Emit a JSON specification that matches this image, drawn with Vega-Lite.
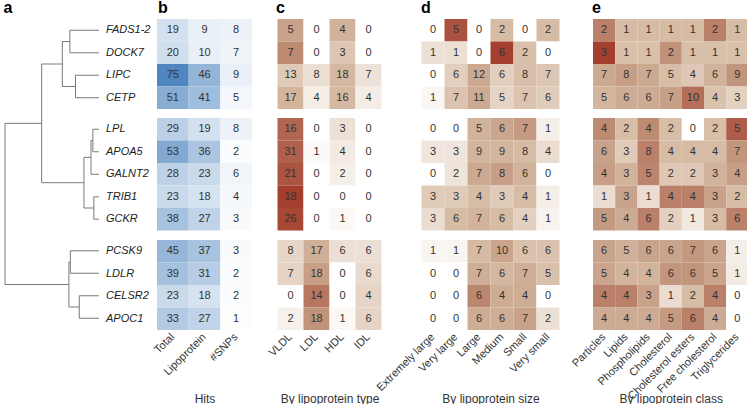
{
  "$schema": "https://vega.github.io/schema/vega-lite/v6.json",
  "background": "white",
  "padding": {"left": 3, "top": 0, "right": 0, "bottom": 0},
  "bounds": "flush",
  "columns": 5,
  "spacing": {"row": 9, "column": 11},
  "resolve": {"scale": {"color": "independent", "x": "independent", "y": "independent"}},
  "config": {
    "font": "Liberation Sans",
    "view": {"stroke": null},
    "title": {"fontSize": 16, "fontWeight": "bold", "anchor": "start", "color": "#000", "offset": 3, "font": "Liberation Sans"},
    "axis": {"domain": false, "ticks": false, "grid": false},
    "axisX": {"labelAngle": -45, "labelAlign": "right", "labelBaseline": "middle", "labelPadding": 5, "labelFontSize": 11, "labelColor": "#333", "labelOverlap": false, "titleY": 68, "titleBaseline": "middle", "titleFontSize": 12, "titleFontWeight": "normal", "titleColor": "#333"},
    "text": {"fontSize": 11, "color": "#333"},
    "range": {"ramp": ["#ffffff", "#4a80b8"]}
  },
  "datasets": {
    "tree": [
      {"h1": 0.31, "h2": 0.31, "p1": 0.5, "p2": 1.5},
      {"h1": 0.25, "h2": 0.25, "p1": 2.5, "p2": 3.5},
      {"h1": 0.39, "h2": 0.39, "p1": 1.0, "p2": 3.0},
      {"h1": 0.065, "h2": 0.065, "p1": 4.9, "p2": 5.9},
      {"h1": 0.085, "h2": 0.085, "p1": 5.4, "p2": 6.9},
      {"h1": 0.055, "h2": 0.055, "p1": 7.9, "p2": 8.9},
      {"h1": 0.16, "h2": 0.16, "p1": 6.15, "p2": 8.4},
      {"h1": 0.61, "h2": 0.61, "p1": 2.0, "p2": 7.275},
      {"h1": 0.305, "h2": 0.305, "p1": 10.3, "p2": 11.3},
      {"h1": 0.21, "h2": 0.21, "p1": 12.3, "p2": 13.3},
      {"h1": 0.32, "h2": 0.32, "p1": 10.8, "p2": 12.8},
      {"h1": 1.0, "h2": 1.0, "p1": 4.6375, "p2": 11.8},
      {"h1": 0, "h2": 0.31, "p1": 0.5, "p2": 0.5},
      {"h1": 0, "h2": 0.31, "p1": 1.5, "p2": 1.5},
      {"h1": 0, "h2": 0.25, "p1": 2.5, "p2": 2.5},
      {"h1": 0, "h2": 0.25, "p1": 3.5, "p2": 3.5},
      {"h1": 0.31, "h2": 0.39, "p1": 1.0, "p2": 1.0},
      {"h1": 0.25, "h2": 0.39, "p1": 3.0, "p2": 3.0},
      {"h1": 0, "h2": 0.065, "p1": 4.9, "p2": 4.9},
      {"h1": 0, "h2": 0.065, "p1": 5.9, "p2": 5.9},
      {"h1": 0.065, "h2": 0.085, "p1": 5.4, "p2": 5.4},
      {"h1": 0, "h2": 0.085, "p1": 6.9, "p2": 6.9},
      {"h1": 0, "h2": 0.055, "p1": 7.9, "p2": 7.9},
      {"h1": 0, "h2": 0.055, "p1": 8.9, "p2": 8.9},
      {"h1": 0.085, "h2": 0.16, "p1": 6.15, "p2": 6.15},
      {"h1": 0.055, "h2": 0.16, "p1": 8.4, "p2": 8.4},
      {"h1": 0.39, "h2": 0.61, "p1": 2.0, "p2": 2.0},
      {"h1": 0.16, "h2": 0.61, "p1": 7.275, "p2": 7.275},
      {"h1": 0, "h2": 0.305, "p1": 10.3, "p2": 10.3},
      {"h1": 0, "h2": 0.305, "p1": 11.3, "p2": 11.3},
      {"h1": 0, "h2": 0.21, "p1": 12.3, "p2": 12.3},
      {"h1": 0, "h2": 0.21, "p1": 13.3, "p2": 13.3},
      {"h1": 0.305, "h2": 0.32, "p1": 10.8, "p2": 10.8},
      {"h1": 0.21, "h2": 0.32, "p1": 12.8, "p2": 12.8},
      {"h1": 0.61, "h2": 1.0, "p1": 4.6375, "p2": 4.6375},
      {"h1": 0.32, "h2": 1.0, "p1": 11.8, "p2": 11.8}
    ],
    "leaves": [
      {"gene": "FADS1-2", "cluster": 1, "pos": 0.5}, {"gene": "DOCK7", "cluster": 1, "pos": 1.5}, {"gene": "LIPC", "cluster": 1, "pos": 2.5}, {"gene": "CETP", "cluster": 1, "pos": 3.5},
      {"gene": "LPL", "cluster": 2, "pos": 4.9}, {"gene": "APOA5", "cluster": 2, "pos": 5.9}, {"gene": "GALNT2", "cluster": 2, "pos": 6.9}, {"gene": "TRIB1", "cluster": 2, "pos": 7.9}, {"gene": "GCKR", "cluster": 2, "pos": 8.9},
      {"gene": "PCSK9", "cluster": 3, "pos": 10.3}, {"gene": "LDLR", "cluster": 3, "pos": 11.3}, {"gene": "CELSR2", "cluster": 3, "pos": 12.3}, {"gene": "APOC1", "cluster": 3, "pos": 13.3}
    ],
    "hits": [
      {"gene": "FADS1-2", "cluster": 1, "col": "Total", "n": 19}, {"gene": "FADS1-2", "cluster": 1, "col": "Lipoprotein", "n": 9}, {"gene": "FADS1-2", "cluster": 1, "col": "#SNPs", "n": 8},
      {"gene": "DOCK7", "cluster": 1, "col": "Total", "n": 20}, {"gene": "DOCK7", "cluster": 1, "col": "Lipoprotein", "n": 10}, {"gene": "DOCK7", "cluster": 1, "col": "#SNPs", "n": 7},
      {"gene": "LIPC", "cluster": 1, "col": "Total", "n": 75}, {"gene": "LIPC", "cluster": 1, "col": "Lipoprotein", "n": 46}, {"gene": "LIPC", "cluster": 1, "col": "#SNPs", "n": 9},
      {"gene": "CETP", "cluster": 1, "col": "Total", "n": 51}, {"gene": "CETP", "cluster": 1, "col": "Lipoprotein", "n": 41}, {"gene": "CETP", "cluster": 1, "col": "#SNPs", "n": 5},
      {"gene": "LPL", "cluster": 2, "col": "Total", "n": 29}, {"gene": "LPL", "cluster": 2, "col": "Lipoprotein", "n": 19}, {"gene": "LPL", "cluster": 2, "col": "#SNPs", "n": 8},
      {"gene": "APOA5", "cluster": 2, "col": "Total", "n": 53}, {"gene": "APOA5", "cluster": 2, "col": "Lipoprotein", "n": 36}, {"gene": "APOA5", "cluster": 2, "col": "#SNPs", "n": 2},
      {"gene": "GALNT2", "cluster": 2, "col": "Total", "n": 28}, {"gene": "GALNT2", "cluster": 2, "col": "Lipoprotein", "n": 23}, {"gene": "GALNT2", "cluster": 2, "col": "#SNPs", "n": 6},
      {"gene": "TRIB1", "cluster": 2, "col": "Total", "n": 23}, {"gene": "TRIB1", "cluster": 2, "col": "Lipoprotein", "n": 18}, {"gene": "TRIB1", "cluster": 2, "col": "#SNPs", "n": 4},
      {"gene": "GCKR", "cluster": 2, "col": "Total", "n": 38}, {"gene": "GCKR", "cluster": 2, "col": "Lipoprotein", "n": 27}, {"gene": "GCKR", "cluster": 2, "col": "#SNPs", "n": 3},
      {"gene": "PCSK9", "cluster": 3, "col": "Total", "n": 45}, {"gene": "PCSK9", "cluster": 3, "col": "Lipoprotein", "n": 37}, {"gene": "PCSK9", "cluster": 3, "col": "#SNPs", "n": 3},
      {"gene": "LDLR", "cluster": 3, "col": "Total", "n": 39}, {"gene": "LDLR", "cluster": 3, "col": "Lipoprotein", "n": 31}, {"gene": "LDLR", "cluster": 3, "col": "#SNPs", "n": 2},
      {"gene": "CELSR2", "cluster": 3, "col": "Total", "n": 23}, {"gene": "CELSR2", "cluster": 3, "col": "Lipoprotein", "n": 18}, {"gene": "CELSR2", "cluster": 3, "col": "#SNPs", "n": 2},
      {"gene": "APOC1", "cluster": 3, "col": "Total", "n": 33}, {"gene": "APOC1", "cluster": 3, "col": "Lipoprotein", "n": 27}, {"gene": "APOC1", "cluster": 3, "col": "#SNPs", "n": 1}
    ],
    "type": [
      {"gene": "FADS1-2", "cluster": 1, "col": "VLDL", "n": 5}, {"gene": "FADS1-2", "cluster": 1, "col": "LDL", "n": 0}, {"gene": "FADS1-2", "cluster": 1, "col": "HDL", "n": 4}, {"gene": "FADS1-2", "cluster": 1, "col": "IDL", "n": 0},
      {"gene": "DOCK7", "cluster": 1, "col": "VLDL", "n": 7}, {"gene": "DOCK7", "cluster": 1, "col": "LDL", "n": 0}, {"gene": "DOCK7", "cluster": 1, "col": "HDL", "n": 3}, {"gene": "DOCK7", "cluster": 1, "col": "IDL", "n": 0},
      {"gene": "LIPC", "cluster": 1, "col": "VLDL", "n": 13}, {"gene": "LIPC", "cluster": 1, "col": "LDL", "n": 8}, {"gene": "LIPC", "cluster": 1, "col": "HDL", "n": 18}, {"gene": "LIPC", "cluster": 1, "col": "IDL", "n": 7},
      {"gene": "CETP", "cluster": 1, "col": "VLDL", "n": 17}, {"gene": "CETP", "cluster": 1, "col": "LDL", "n": 4}, {"gene": "CETP", "cluster": 1, "col": "HDL", "n": 16}, {"gene": "CETP", "cluster": 1, "col": "IDL", "n": 4},
      {"gene": "LPL", "cluster": 2, "col": "VLDL", "n": 16}, {"gene": "LPL", "cluster": 2, "col": "LDL", "n": 0}, {"gene": "LPL", "cluster": 2, "col": "HDL", "n": 3}, {"gene": "LPL", "cluster": 2, "col": "IDL", "n": 0},
      {"gene": "APOA5", "cluster": 2, "col": "VLDL", "n": 31}, {"gene": "APOA5", "cluster": 2, "col": "LDL", "n": 1}, {"gene": "APOA5", "cluster": 2, "col": "HDL", "n": 4}, {"gene": "APOA5", "cluster": 2, "col": "IDL", "n": 0},
      {"gene": "GALNT2", "cluster": 2, "col": "VLDL", "n": 21}, {"gene": "GALNT2", "cluster": 2, "col": "LDL", "n": 0}, {"gene": "GALNT2", "cluster": 2, "col": "HDL", "n": 2}, {"gene": "GALNT2", "cluster": 2, "col": "IDL", "n": 0},
      {"gene": "TRIB1", "cluster": 2, "col": "VLDL", "n": 18}, {"gene": "TRIB1", "cluster": 2, "col": "LDL", "n": 0}, {"gene": "TRIB1", "cluster": 2, "col": "HDL", "n": 0}, {"gene": "TRIB1", "cluster": 2, "col": "IDL", "n": 0},
      {"gene": "GCKR", "cluster": 2, "col": "VLDL", "n": 26}, {"gene": "GCKR", "cluster": 2, "col": "LDL", "n": 0}, {"gene": "GCKR", "cluster": 2, "col": "HDL", "n": 1}, {"gene": "GCKR", "cluster": 2, "col": "IDL", "n": 0},
      {"gene": "PCSK9", "cluster": 3, "col": "VLDL", "n": 8}, {"gene": "PCSK9", "cluster": 3, "col": "LDL", "n": 17}, {"gene": "PCSK9", "cluster": 3, "col": "HDL", "n": 6}, {"gene": "PCSK9", "cluster": 3, "col": "IDL", "n": 6},
      {"gene": "LDLR", "cluster": 3, "col": "VLDL", "n": 7}, {"gene": "LDLR", "cluster": 3, "col": "LDL", "n": 18}, {"gene": "LDLR", "cluster": 3, "col": "HDL", "n": 0}, {"gene": "LDLR", "cluster": 3, "col": "IDL", "n": 6},
      {"gene": "CELSR2", "cluster": 3, "col": "VLDL", "n": 0}, {"gene": "CELSR2", "cluster": 3, "col": "LDL", "n": 14}, {"gene": "CELSR2", "cluster": 3, "col": "HDL", "n": 0}, {"gene": "CELSR2", "cluster": 3, "col": "IDL", "n": 4},
      {"gene": "APOC1", "cluster": 3, "col": "VLDL", "n": 2}, {"gene": "APOC1", "cluster": 3, "col": "LDL", "n": 18}, {"gene": "APOC1", "cluster": 3, "col": "HDL", "n": 1}, {"gene": "APOC1", "cluster": 3, "col": "IDL", "n": 6}
    ],
    "size": [
      {"gene": "FADS1-2", "cluster": 1, "col": "Extremely large", "n": 0}, {"gene": "FADS1-2", "cluster": 1, "col": "Very large", "n": 5}, {"gene": "FADS1-2", "cluster": 1, "col": "Large", "n": 0}, {"gene": "FADS1-2", "cluster": 1, "col": "Medium", "n": 2}, {"gene": "FADS1-2", "cluster": 1, "col": "Small", "n": 0}, {"gene": "FADS1-2", "cluster": 1, "col": "Very small", "n": 2},
      {"gene": "DOCK7", "cluster": 1, "col": "Extremely large", "n": 1}, {"gene": "DOCK7", "cluster": 1, "col": "Very large", "n": 1}, {"gene": "DOCK7", "cluster": 1, "col": "Large", "n": 0}, {"gene": "DOCK7", "cluster": 1, "col": "Medium", "n": 6}, {"gene": "DOCK7", "cluster": 1, "col": "Small", "n": 2}, {"gene": "DOCK7", "cluster": 1, "col": "Very small", "n": 0},
      {"gene": "LIPC", "cluster": 1, "col": "Extremely large", "n": 0}, {"gene": "LIPC", "cluster": 1, "col": "Very large", "n": 6}, {"gene": "LIPC", "cluster": 1, "col": "Large", "n": 12}, {"gene": "LIPC", "cluster": 1, "col": "Medium", "n": 6}, {"gene": "LIPC", "cluster": 1, "col": "Small", "n": 8}, {"gene": "LIPC", "cluster": 1, "col": "Very small", "n": 7},
      {"gene": "CETP", "cluster": 1, "col": "Extremely large", "n": 1}, {"gene": "CETP", "cluster": 1, "col": "Very large", "n": 7}, {"gene": "CETP", "cluster": 1, "col": "Large", "n": 11}, {"gene": "CETP", "cluster": 1, "col": "Medium", "n": 5}, {"gene": "CETP", "cluster": 1, "col": "Small", "n": 7}, {"gene": "CETP", "cluster": 1, "col": "Very small", "n": 6},
      {"gene": "LPL", "cluster": 2, "col": "Extremely large", "n": 0}, {"gene": "LPL", "cluster": 2, "col": "Very large", "n": 0}, {"gene": "LPL", "cluster": 2, "col": "Large", "n": 5}, {"gene": "LPL", "cluster": 2, "col": "Medium", "n": 6}, {"gene": "LPL", "cluster": 2, "col": "Small", "n": 7}, {"gene": "LPL", "cluster": 2, "col": "Very small", "n": 1},
      {"gene": "APOA5", "cluster": 2, "col": "Extremely large", "n": 3}, {"gene": "APOA5", "cluster": 2, "col": "Very large", "n": 3}, {"gene": "APOA5", "cluster": 2, "col": "Large", "n": 9}, {"gene": "APOA5", "cluster": 2, "col": "Medium", "n": 9}, {"gene": "APOA5", "cluster": 2, "col": "Small", "n": 8}, {"gene": "APOA5", "cluster": 2, "col": "Very small", "n": 4},
      {"gene": "GALNT2", "cluster": 2, "col": "Extremely large", "n": 0}, {"gene": "GALNT2", "cluster": 2, "col": "Very large", "n": 2}, {"gene": "GALNT2", "cluster": 2, "col": "Large", "n": 7}, {"gene": "GALNT2", "cluster": 2, "col": "Medium", "n": 8}, {"gene": "GALNT2", "cluster": 2, "col": "Small", "n": 6}, {"gene": "GALNT2", "cluster": 2, "col": "Very small", "n": 0},
      {"gene": "TRIB1", "cluster": 2, "col": "Extremely large", "n": 3}, {"gene": "TRIB1", "cluster": 2, "col": "Very large", "n": 3}, {"gene": "TRIB1", "cluster": 2, "col": "Large", "n": 4}, {"gene": "TRIB1", "cluster": 2, "col": "Medium", "n": 3}, {"gene": "TRIB1", "cluster": 2, "col": "Small", "n": 4}, {"gene": "TRIB1", "cluster": 2, "col": "Very small", "n": 1},
      {"gene": "GCKR", "cluster": 2, "col": "Extremely large", "n": 3}, {"gene": "GCKR", "cluster": 2, "col": "Very large", "n": 6}, {"gene": "GCKR", "cluster": 2, "col": "Large", "n": 7}, {"gene": "GCKR", "cluster": 2, "col": "Medium", "n": 6}, {"gene": "GCKR", "cluster": 2, "col": "Small", "n": 4}, {"gene": "GCKR", "cluster": 2, "col": "Very small", "n": 1},
      {"gene": "PCSK9", "cluster": 3, "col": "Extremely large", "n": 1}, {"gene": "PCSK9", "cluster": 3, "col": "Very large", "n": 1}, {"gene": "PCSK9", "cluster": 3, "col": "Large", "n": 7}, {"gene": "PCSK9", "cluster": 3, "col": "Medium", "n": 10}, {"gene": "PCSK9", "cluster": 3, "col": "Small", "n": 6}, {"gene": "PCSK9", "cluster": 3, "col": "Very small", "n": 6},
      {"gene": "LDLR", "cluster": 3, "col": "Extremely large", "n": 0}, {"gene": "LDLR", "cluster": 3, "col": "Very large", "n": 0}, {"gene": "LDLR", "cluster": 3, "col": "Large", "n": 7}, {"gene": "LDLR", "cluster": 3, "col": "Medium", "n": 6}, {"gene": "LDLR", "cluster": 3, "col": "Small", "n": 7}, {"gene": "LDLR", "cluster": 3, "col": "Very small", "n": 5},
      {"gene": "CELSR2", "cluster": 3, "col": "Extremely large", "n": 0}, {"gene": "CELSR2", "cluster": 3, "col": "Very large", "n": 0}, {"gene": "CELSR2", "cluster": 3, "col": "Large", "n": 6}, {"gene": "CELSR2", "cluster": 3, "col": "Medium", "n": 4}, {"gene": "CELSR2", "cluster": 3, "col": "Small", "n": 4}, {"gene": "CELSR2", "cluster": 3, "col": "Very small", "n": 0},
      {"gene": "APOC1", "cluster": 3, "col": "Extremely large", "n": 0}, {"gene": "APOC1", "cluster": 3, "col": "Very large", "n": 0}, {"gene": "APOC1", "cluster": 3, "col": "Large", "n": 6}, {"gene": "APOC1", "cluster": 3, "col": "Medium", "n": 6}, {"gene": "APOC1", "cluster": 3, "col": "Small", "n": 7}, {"gene": "APOC1", "cluster": 3, "col": "Very small", "n": 2}
    ],
    "klass": [
      {"gene": "FADS1-2", "cluster": 1, "col": "Particles", "n": 2}, {"gene": "FADS1-2", "cluster": 1, "col": "Lipids", "n": 1}, {"gene": "FADS1-2", "cluster": 1, "col": "Phospholipids", "n": 1}, {"gene": "FADS1-2", "cluster": 1, "col": "Cholesterol", "n": 1}, {"gene": "FADS1-2", "cluster": 1, "col": "Cholesterol esters", "n": 1}, {"gene": "FADS1-2", "cluster": 1, "col": "Free cholesterol", "n": 2}, {"gene": "FADS1-2", "cluster": 1, "col": "Triglycerides", "n": 1},
      {"gene": "DOCK7", "cluster": 1, "col": "Particles", "n": 3}, {"gene": "DOCK7", "cluster": 1, "col": "Lipids", "n": 1}, {"gene": "DOCK7", "cluster": 1, "col": "Phospholipids", "n": 1}, {"gene": "DOCK7", "cluster": 1, "col": "Cholesterol", "n": 2}, {"gene": "DOCK7", "cluster": 1, "col": "Cholesterol esters", "n": 1}, {"gene": "DOCK7", "cluster": 1, "col": "Free cholesterol", "n": 1}, {"gene": "DOCK7", "cluster": 1, "col": "Triglycerides", "n": 1},
      {"gene": "LIPC", "cluster": 1, "col": "Particles", "n": 7}, {"gene": "LIPC", "cluster": 1, "col": "Lipids", "n": 8}, {"gene": "LIPC", "cluster": 1, "col": "Phospholipids", "n": 7}, {"gene": "LIPC", "cluster": 1, "col": "Cholesterol", "n": 5}, {"gene": "LIPC", "cluster": 1, "col": "Cholesterol esters", "n": 4}, {"gene": "LIPC", "cluster": 1, "col": "Free cholesterol", "n": 6}, {"gene": "LIPC", "cluster": 1, "col": "Triglycerides", "n": 9},
      {"gene": "CETP", "cluster": 1, "col": "Particles", "n": 5}, {"gene": "CETP", "cluster": 1, "col": "Lipids", "n": 6}, {"gene": "CETP", "cluster": 1, "col": "Phospholipids", "n": 6}, {"gene": "CETP", "cluster": 1, "col": "Cholesterol", "n": 7}, {"gene": "CETP", "cluster": 1, "col": "Cholesterol esters", "n": 10}, {"gene": "CETP", "cluster": 1, "col": "Free cholesterol", "n": 4}, {"gene": "CETP", "cluster": 1, "col": "Triglycerides", "n": 3},
      {"gene": "LPL", "cluster": 2, "col": "Particles", "n": 4}, {"gene": "LPL", "cluster": 2, "col": "Lipids", "n": 2}, {"gene": "LPL", "cluster": 2, "col": "Phospholipids", "n": 4}, {"gene": "LPL", "cluster": 2, "col": "Cholesterol", "n": 2}, {"gene": "LPL", "cluster": 2, "col": "Cholesterol esters", "n": 0}, {"gene": "LPL", "cluster": 2, "col": "Free cholesterol", "n": 2}, {"gene": "LPL", "cluster": 2, "col": "Triglycerides", "n": 5},
      {"gene": "APOA5", "cluster": 2, "col": "Particles", "n": 6}, {"gene": "APOA5", "cluster": 2, "col": "Lipids", "n": 3}, {"gene": "APOA5", "cluster": 2, "col": "Phospholipids", "n": 8}, {"gene": "APOA5", "cluster": 2, "col": "Cholesterol", "n": 4}, {"gene": "APOA5", "cluster": 2, "col": "Cholesterol esters", "n": 4}, {"gene": "APOA5", "cluster": 2, "col": "Free cholesterol", "n": 4}, {"gene": "APOA5", "cluster": 2, "col": "Triglycerides", "n": 7},
      {"gene": "GALNT2", "cluster": 2, "col": "Particles", "n": 4}, {"gene": "GALNT2", "cluster": 2, "col": "Lipids", "n": 3}, {"gene": "GALNT2", "cluster": 2, "col": "Phospholipids", "n": 5}, {"gene": "GALNT2", "cluster": 2, "col": "Cholesterol", "n": 2}, {"gene": "GALNT2", "cluster": 2, "col": "Cholesterol esters", "n": 2}, {"gene": "GALNT2", "cluster": 2, "col": "Free cholesterol", "n": 3}, {"gene": "GALNT2", "cluster": 2, "col": "Triglycerides", "n": 4},
      {"gene": "TRIB1", "cluster": 2, "col": "Particles", "n": 1}, {"gene": "TRIB1", "cluster": 2, "col": "Lipids", "n": 3}, {"gene": "TRIB1", "cluster": 2, "col": "Phospholipids", "n": 1}, {"gene": "TRIB1", "cluster": 2, "col": "Cholesterol", "n": 4}, {"gene": "TRIB1", "cluster": 2, "col": "Cholesterol esters", "n": 4}, {"gene": "TRIB1", "cluster": 2, "col": "Free cholesterol", "n": 3}, {"gene": "TRIB1", "cluster": 2, "col": "Triglycerides", "n": 2},
      {"gene": "GCKR", "cluster": 2, "col": "Particles", "n": 5}, {"gene": "GCKR", "cluster": 2, "col": "Lipids", "n": 4}, {"gene": "GCKR", "cluster": 2, "col": "Phospholipids", "n": 6}, {"gene": "GCKR", "cluster": 2, "col": "Cholesterol", "n": 2}, {"gene": "GCKR", "cluster": 2, "col": "Cholesterol esters", "n": 1}, {"gene": "GCKR", "cluster": 2, "col": "Free cholesterol", "n": 3}, {"gene": "GCKR", "cluster": 2, "col": "Triglycerides", "n": 6},
      {"gene": "PCSK9", "cluster": 3, "col": "Particles", "n": 6}, {"gene": "PCSK9", "cluster": 3, "col": "Lipids", "n": 5}, {"gene": "PCSK9", "cluster": 3, "col": "Phospholipids", "n": 6}, {"gene": "PCSK9", "cluster": 3, "col": "Cholesterol", "n": 6}, {"gene": "PCSK9", "cluster": 3, "col": "Cholesterol esters", "n": 7}, {"gene": "PCSK9", "cluster": 3, "col": "Free cholesterol", "n": 6}, {"gene": "PCSK9", "cluster": 3, "col": "Triglycerides", "n": 1},
      {"gene": "LDLR", "cluster": 3, "col": "Particles", "n": 5}, {"gene": "LDLR", "cluster": 3, "col": "Lipids", "n": 4}, {"gene": "LDLR", "cluster": 3, "col": "Phospholipids", "n": 4}, {"gene": "LDLR", "cluster": 3, "col": "Cholesterol", "n": 6}, {"gene": "LDLR", "cluster": 3, "col": "Cholesterol esters", "n": 6}, {"gene": "LDLR", "cluster": 3, "col": "Free cholesterol", "n": 5}, {"gene": "LDLR", "cluster": 3, "col": "Triglycerides", "n": 1},
      {"gene": "CELSR2", "cluster": 3, "col": "Particles", "n": 4}, {"gene": "CELSR2", "cluster": 3, "col": "Lipids", "n": 4}, {"gene": "CELSR2", "cluster": 3, "col": "Phospholipids", "n": 3}, {"gene": "CELSR2", "cluster": 3, "col": "Cholesterol", "n": 1}, {"gene": "CELSR2", "cluster": 3, "col": "Cholesterol esters", "n": 2}, {"gene": "CELSR2", "cluster": 3, "col": "Free cholesterol", "n": 4}, {"gene": "CELSR2", "cluster": 3, "col": "Triglycerides", "n": 0},
      {"gene": "APOC1", "cluster": 3, "col": "Particles", "n": 4}, {"gene": "APOC1", "cluster": 3, "col": "Lipids", "n": 4}, {"gene": "APOC1", "cluster": 3, "col": "Phospholipids", "n": 4}, {"gene": "APOC1", "cluster": 3, "col": "Cholesterol", "n": 5}, {"gene": "APOC1", "cluster": 3, "col": "Cholesterol esters", "n": 6}, {"gene": "APOC1", "cluster": 3, "col": "Free cholesterol", "n": 4}, {"gene": "APOC1", "cluster": 3, "col": "Triglycerides", "n": 0}
    ]
  },
  "concat": [
    {
      "width": 141, "height": 90,
      "title": {"text": "a", "dx": -1},
      "layer": [
        {
          "data": {"name": "tree"},
          "mark": {"type": "rule", "color": "#7a7a7a", "strokeWidth": 1},
          "encoding": {
            "x": {"field": "h1", "type": "quantitative", "scale": {"domain": [-0.5, 1], "reverse": true, "nice": false, "zero": false}, "axis": null},
            "x2": {"field": "h2"},
            "y": {"field": "p1", "type": "quantitative", "scale": {"domain": [0, 4], "reverse": true, "nice": false, "zero": false}, "axis": null},
            "y2": {"field": "p2"}
          }
        },
        {
          "data": {"name": "leaves"},
          "transform": [{"filter": "datum.cluster == 1"}],
          "mark": {"type": "text", "align": "left", "baseline": "middle", "dx": 7, "fontStyle": "italic", "fontSize": 11, "color": "#222"},
          "encoding": {"x": {"datum": 0, "type": "quantitative"}, "y": {"field": "pos", "type": "quantitative"}, "text": {"field": "gene"}}
        }
      ]
    },
    {
      "data": {"name": "hits"}, "title": {"text": "b", "dx": 1},
      "transform": [{"filter": "datum.cluster == 1"}],
      "width": 95, "height": {"step": 22.5},
      "encoding": {
        "x": {"field": "col", "type": "nominal", "sort": ["Total", "Lipoprotein", "#SNPs"], "scale": {"paddingInner": 0, "paddingOuter": 0}, "axis": null},
        "y": {"field": "gene", "type": "nominal", "sort": ["FADS1-2", "DOCK7", "LIPC", "CETP"], "scale": {"paddingInner": 0, "paddingOuter": 0}, "axis": null}
      },
      "layer": [
        {"mark": "rect", "encoding": {"color": {"field": "n", "type": "quantitative", "scale": {"domain": [0, 75], "range": ["#ffffff", "#4f86bf"], "interpolate": "rgb"}, "legend": null}}},
        {"mark": "text", "encoding": {"text": {"field": "n", "type": "quantitative"}}}
      ]
    },
    {
      "data": {"name": "type"}, "title": {"text": "c", "dx": 13},
      "transform": [{"filter": "datum.cluster == 1"}, {"joinaggregate": [{"op": "sum", "field": "n", "as": "total"}], "groupby": ["gene"]}, {"calculate": "datum.total > 0 ? datum.n / datum.total : 0", "as": "share"}],
      "width": 133, "height": {"step": 22.5},
      "encoding": {
        "x": {"field": "col", "type": "nominal", "sort": ["VLDL", "LDL", "HDL", "IDL"], "scale": {"paddingInner": 0, "paddingOuter": 0.5577}, "axis": null},
        "y": {"field": "gene", "type": "nominal", "sort": ["FADS1-2", "DOCK7", "LIPC", "CETP"], "scale": {"paddingInner": 0, "paddingOuter": 0}, "axis": null}
      },
      "layer": [
        {"mark": "rect", "encoding": {"color": {"field": "share", "type": "quantitative", "scale": {"domain": [0, 0.333, 0.667, 1.0], "range": ["#ffffff", "#d9c0aa", "#c0937a", "#a43e2e"], "interpolate": "rgb"}, "legend": null}}},
        {"mark": "text", "encoding": {"text": {"field": "n", "type": "quantitative"}}}
      ]
    },
    {
      "data": {"name": "size"}, "title": {"text": "d", "dx": 14},
      "transform": [{"filter": "datum.cluster == 1"}, {"joinaggregate": [{"op": "sum", "field": "n", "as": "total"}], "groupby": ["gene"]}, {"calculate": "datum.total > 0 ? datum.n / datum.total : 0", "as": "share"}],
      "width": 167, "height": {"step": 22.5},
      "encoding": {
        "x": {"field": "col", "type": "nominal", "sort": ["Extremely large", "Very large", "Large", "Medium", "Small", "Very small"], "scale": {"paddingInner": 0, "paddingOuter": 0.6304}, "axis": null},
        "y": {"field": "gene", "type": "nominal", "sort": ["FADS1-2", "DOCK7", "LIPC", "CETP"], "scale": {"paddingInner": 0, "paddingOuter": 0}, "axis": null}
      },
      "layer": [
        {"mark": "rect", "encoding": {"color": {"field": "share", "type": "quantitative", "scale": {"domain": [0, 0.2, 0.4, 0.6], "range": ["#ffffff", "#d9c0aa", "#c0937a", "#a43e2e"], "interpolate": "rgb"}, "legend": null}}},
        {"mark": "text", "encoding": {"text": {"field": "n", "type": "quantitative"}}}
      ]
    },
    {
      "data": {"name": "klass"}, "title": {"text": "e", "dx": 7},
      "transform": [{"filter": "datum.cluster == 1"}, {"joinaggregate": [{"op": "sum", "field": "n", "as": "total"}], "groupby": ["gene"]}, {"calculate": "datum.total > 0 ? datum.n / datum.total : 0", "as": "share"}],
      "width": 171.4, "height": {"step": 22.5},
      "encoding": {
        "x": {"field": "col", "type": "nominal", "sort": ["Particles", "Lipids", "Phospholipids", "Cholesterol", "Cholesterol esters", "Free cholesterol", "Triglycerides"], "scale": {"paddingInner": 0, "paddingOuter": 0.36}, "axis": null},
        "y": {"field": "gene", "type": "nominal", "sort": ["FADS1-2", "DOCK7", "LIPC", "CETP"], "scale": {"paddingInner": 0, "paddingOuter": 0}, "axis": null}
      },
      "layer": [
        {"mark": "rect", "encoding": {"color": {"field": "share", "type": "quantitative", "scale": {"domain": [0, 0.1, 0.2, 0.3], "range": ["#ffffff", "#d9c0aa", "#c0937a", "#a43e2e"], "interpolate": "rgb"}, "legend": null}}},
        {"mark": "text", "encoding": {"text": {"field": "n", "type": "quantitative"}}}
      ]
    },
    {
      "width": 141, "height": 112.5,
      "data": {"name": "leaves"},
      "transform": [{"filter": "datum.cluster == 2"}],
      "mark": {"type": "text", "align": "left", "baseline": "middle", "dx": 7, "fontStyle": "italic", "fontSize": 11, "color": "#222"},
      "encoding": {
        "x": {"datum": 0, "type": "quantitative", "scale": {"domain": [-0.5, 1], "reverse": true, "nice": false, "zero": false}, "axis": null},
        "y": {"field": "pos", "type": "quantitative", "scale": {"domain": [4.4, 9.4], "reverse": true, "nice": false, "zero": false}, "axis": null},
        "text": {"field": "gene"}
      }
    },
    {
      "data": {"name": "hits"},
      "transform": [{"filter": "datum.cluster == 2"}],
      "width": 95, "height": {"step": 22.5},
      "encoding": {
        "x": {"field": "col", "type": "nominal", "sort": ["Total", "Lipoprotein", "#SNPs"], "scale": {"paddingInner": 0, "paddingOuter": 0}, "axis": null},
        "y": {"field": "gene", "type": "nominal", "sort": ["LPL", "APOA5", "GALNT2", "TRIB1", "GCKR"], "scale": {"paddingInner": 0, "paddingOuter": 0}, "axis": null}
      },
      "layer": [
        {"mark": "rect", "encoding": {"color": {"field": "n", "type": "quantitative", "scale": {"domain": [0, 75], "range": ["#ffffff", "#4f86bf"], "interpolate": "rgb"}, "legend": null}}},
        {"mark": "text", "encoding": {"text": {"field": "n", "type": "quantitative"}}}
      ]
    },
    {
      "data": {"name": "type"},
      "transform": [{"filter": "datum.cluster == 2"}, {"joinaggregate": [{"op": "sum", "field": "n", "as": "total"}], "groupby": ["gene"]}, {"calculate": "datum.total > 0 ? datum.n / datum.total : 0", "as": "share"}],
      "width": 133, "height": {"step": 22.5},
      "encoding": {
        "x": {"field": "col", "type": "nominal", "sort": ["VLDL", "LDL", "HDL", "IDL"], "scale": {"paddingInner": 0, "paddingOuter": 0.5577}, "axis": null},
        "y": {"field": "gene", "type": "nominal", "sort": ["LPL", "APOA5", "GALNT2", "TRIB1", "GCKR"], "scale": {"paddingInner": 0, "paddingOuter": 0}, "axis": null}
      },
      "layer": [
        {"mark": "rect", "encoding": {"color": {"field": "share", "type": "quantitative", "scale": {"domain": [0, 0.333, 0.667, 1.0], "range": ["#ffffff", "#d9c0aa", "#c0937a", "#a43e2e"], "interpolate": "rgb"}, "legend": null}}},
        {"mark": "text", "encoding": {"text": {"field": "n", "type": "quantitative"}}}
      ]
    },
    {
      "data": {"name": "size"},
      "transform": [{"filter": "datum.cluster == 2"}, {"joinaggregate": [{"op": "sum", "field": "n", "as": "total"}], "groupby": ["gene"]}, {"calculate": "datum.total > 0 ? datum.n / datum.total : 0", "as": "share"}],
      "width": 167, "height": {"step": 22.5},
      "encoding": {
        "x": {"field": "col", "type": "nominal", "sort": ["Extremely large", "Very large", "Large", "Medium", "Small", "Very small"], "scale": {"paddingInner": 0, "paddingOuter": 0.6304}, "axis": null},
        "y": {"field": "gene", "type": "nominal", "sort": ["LPL", "APOA5", "GALNT2", "TRIB1", "GCKR"], "scale": {"paddingInner": 0, "paddingOuter": 0}, "axis": null}
      },
      "layer": [
        {"mark": "rect", "encoding": {"color": {"field": "share", "type": "quantitative", "scale": {"domain": [0, 0.2, 0.4, 0.6], "range": ["#ffffff", "#d9c0aa", "#c0937a", "#a43e2e"], "interpolate": "rgb"}, "legend": null}}},
        {"mark": "text", "encoding": {"text": {"field": "n", "type": "quantitative"}}}
      ]
    },
    {
      "data": {"name": "klass"},
      "transform": [{"filter": "datum.cluster == 2"}, {"joinaggregate": [{"op": "sum", "field": "n", "as": "total"}], "groupby": ["gene"]}, {"calculate": "datum.total > 0 ? datum.n / datum.total : 0", "as": "share"}],
      "width": 171.4, "height": {"step": 22.5},
      "encoding": {
        "x": {"field": "col", "type": "nominal", "sort": ["Particles", "Lipids", "Phospholipids", "Cholesterol", "Cholesterol esters", "Free cholesterol", "Triglycerides"], "scale": {"paddingInner": 0, "paddingOuter": 0.36}, "axis": null},
        "y": {"field": "gene", "type": "nominal", "sort": ["LPL", "APOA5", "GALNT2", "TRIB1", "GCKR"], "scale": {"paddingInner": 0, "paddingOuter": 0}, "axis": null}
      },
      "layer": [
        {"mark": "rect", "encoding": {"color": {"field": "share", "type": "quantitative", "scale": {"domain": [0, 0.1, 0.2, 0.3], "range": ["#ffffff", "#d9c0aa", "#c0937a", "#a43e2e"], "interpolate": "rgb"}, "legend": null}}},
        {"mark": "text", "encoding": {"text": {"field": "n", "type": "quantitative"}}}
      ]
    },
    {
      "width": 141, "height": 90,
      "data": {"name": "leaves"},
      "transform": [{"filter": "datum.cluster == 3"}],
      "mark": {"type": "text", "align": "left", "baseline": "middle", "dx": 7, "fontStyle": "italic", "fontSize": 11, "color": "#222"},
      "encoding": {
        "x": {"datum": 0, "type": "quantitative", "scale": {"domain": [-0.5, 1], "reverse": true, "nice": false, "zero": false}, "axis": null},
        "y": {"field": "pos", "type": "quantitative", "scale": {"domain": [9.8, 13.8], "reverse": true, "nice": false, "zero": false}, "axis": null},
        "text": {"field": "gene"}
      }
    },
    {
      "data": {"name": "hits"},
      "transform": [{"filter": "datum.cluster == 3"}],
      "width": 95, "height": {"step": 22.5},
      "encoding": {
        "x": {"field": "col", "type": "nominal", "sort": ["Total", "Lipoprotein", "#SNPs"], "scale": {"paddingInner": 0, "paddingOuter": 0}, "axis": {"title": "Hits"}},
        "y": {"field": "gene", "type": "nominal", "sort": ["PCSK9", "LDLR", "CELSR2", "APOC1"], "scale": {"paddingInner": 0, "paddingOuter": 0}, "axis": null}
      },
      "layer": [
        {"mark": "rect", "encoding": {"color": {"field": "n", "type": "quantitative", "scale": {"domain": [0, 75], "range": ["#ffffff", "#4f86bf"], "interpolate": "rgb"}, "legend": null}}},
        {"mark": "text", "encoding": {"text": {"field": "n", "type": "quantitative"}}}
      ]
    },
    {
      "data": {"name": "type"},
      "transform": [{"filter": "datum.cluster == 3"}, {"joinaggregate": [{"op": "sum", "field": "n", "as": "total"}], "groupby": ["gene"]}, {"calculate": "datum.total > 0 ? datum.n / datum.total : 0", "as": "share"}],
      "width": 133, "height": {"step": 22.5},
      "encoding": {
        "x": {"field": "col", "type": "nominal", "sort": ["VLDL", "LDL", "HDL", "IDL"], "scale": {"paddingInner": 0, "paddingOuter": 0.5577}, "axis": {"title": "By lipoprotein type"}},
        "y": {"field": "gene", "type": "nominal", "sort": ["PCSK9", "LDLR", "CELSR2", "APOC1"], "scale": {"paddingInner": 0, "paddingOuter": 0}, "axis": null}
      },
      "layer": [
        {"mark": "rect", "encoding": {"color": {"field": "share", "type": "quantitative", "scale": {"domain": [0, 0.333, 0.667, 1.0], "range": ["#ffffff", "#d9c0aa", "#c0937a", "#a43e2e"], "interpolate": "rgb"}, "legend": null}}},
        {"mark": "text", "encoding": {"text": {"field": "n", "type": "quantitative"}}}
      ]
    },
    {
      "data": {"name": "size"},
      "transform": [{"filter": "datum.cluster == 3"}, {"joinaggregate": [{"op": "sum", "field": "n", "as": "total"}], "groupby": ["gene"]}, {"calculate": "datum.total > 0 ? datum.n / datum.total : 0", "as": "share"}],
      "width": 167, "height": {"step": 22.5},
      "encoding": {
        "x": {"field": "col", "type": "nominal", "sort": ["Extremely large", "Very large", "Large", "Medium", "Small", "Very small"], "scale": {"paddingInner": 0, "paddingOuter": 0.6304}, "axis": {"title": "By lipoprotein size"}},
        "y": {"field": "gene", "type": "nominal", "sort": ["PCSK9", "LDLR", "CELSR2", "APOC1"], "scale": {"paddingInner": 0, "paddingOuter": 0}, "axis": null}
      },
      "layer": [
        {"mark": "rect", "encoding": {"color": {"field": "share", "type": "quantitative", "scale": {"domain": [0, 0.2, 0.4, 0.6], "range": ["#ffffff", "#d9c0aa", "#c0937a", "#a43e2e"], "interpolate": "rgb"}, "legend": null}}},
        {"mark": "text", "encoding": {"text": {"field": "n", "type": "quantitative"}}}
      ]
    },
    {
      "data": {"name": "klass"},
      "transform": [{"filter": "datum.cluster == 3"}, {"joinaggregate": [{"op": "sum", "field": "n", "as": "total"}], "groupby": ["gene"]}, {"calculate": "datum.total > 0 ? datum.n / datum.total : 0", "as": "share"}],
      "width": 171.4, "height": {"step": 22.5},
      "encoding": {
        "x": {"field": "col", "type": "nominal", "sort": ["Particles", "Lipids", "Phospholipids", "Cholesterol", "Cholesterol esters", "Free cholesterol", "Triglycerides"], "scale": {"paddingInner": 0, "paddingOuter": 0.36}, "axis": {"title": "By lipoprotein class"}},
        "y": {"field": "gene", "type": "nominal", "sort": ["PCSK9", "LDLR", "CELSR2", "APOC1"], "scale": {"paddingInner": 0, "paddingOuter": 0}, "axis": null}
      },
      "layer": [
        {"mark": "rect", "encoding": {"color": {"field": "share", "type": "quantitative", "scale": {"domain": [0, 0.1, 0.2, 0.3], "range": ["#ffffff", "#d9c0aa", "#c0937a", "#a43e2e"], "interpolate": "rgb"}, "legend": null}}},
        {"mark": "text", "encoding": {"text": {"field": "n", "type": "quantitative"}}}
      ]
    }
  ]
}
